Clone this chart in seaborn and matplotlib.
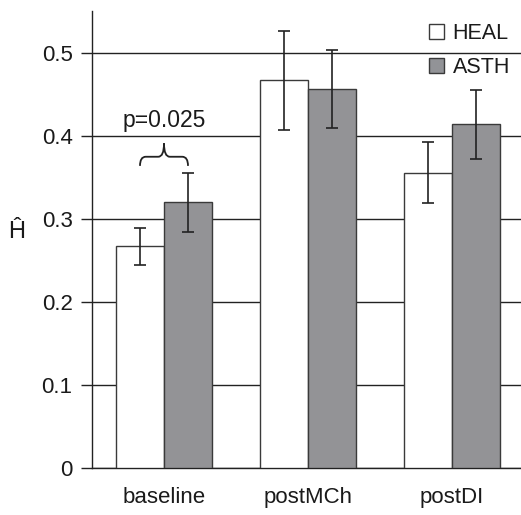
import matplotlib
matplotlib.use("Agg")
import matplotlib.pyplot as plt
from matplotlib.path import Path
from matplotlib.patches import PathPatch, Patch
import seaborn as sns
import pandas as pd
import numpy as np

conditions = ["baseline", "postMCh", "postDI"]
groups = ["HEAL", "ASTH"]
heal_mean = [0.267, 0.467, 0.356]
asth_mean = [0.320, 0.457, 0.414]
heal_err = [0.022, 0.060, 0.037]
asth_err = [0.036, 0.047, 0.042]
y_ticks = [0, 0.1, 0.2, 0.3, 0.4, 0.5]
y_tick_labels = ["0", "0.1", "0.2", "0.3", "0.4", "0.5"]
p_text = "p=0.025"

sns.set_style("white")
plt.rcParams["font.family"] = ["Liberation Sans", "DejaVu Sans"]
plt.rcParams["text.color"] = "#1a1a1a"
plt.rcParams["xtick.color"] = "#1a1a1a"
plt.rcParams["ytick.color"] = "#1a1a1a"
plt.rcParams["xtick.labelcolor"] = "#1a1a1a"
plt.rcParams["ytick.labelcolor"] = "#1a1a1a"

df = pd.DataFrame({
    "condition": conditions * 2,
    "group": [groups[0]] * 3 + [groups[1]] * 3,
    "H": heal_mean + asth_mean,
    "err": heal_err + asth_err,
})

fig = plt.figure(figsize=(5.21, 5.15), dpi=100)
ax = fig.add_axes([92 / 521, 47 / 515, 432 / 521, 456.5 / 515])

palette = {"HEAL": "#ffffff", "ASTH": "#929397"}
sns.barplot(data=df, x="condition", y="H", hue="group", order=conditions,
            hue_order=groups, palette=palette, width=0.667, errorbar=None,
            edgecolor="#3a3a3a", linewidth=1.0, legend=False, ax=ax, zorder=3)

# error bars at bar centres
for cont, g in zip(ax.containers, groups):
    sub = df[df["group"] == g].set_index("condition").loc[conditions]
    xs = [b.get_x() + b.get_width() / 2 for b in cont]
    ax.errorbar(xs, sub["H"].values, yerr=sub["err"].values, fmt="none",
                ecolor="#222222", elinewidth=1.2, capsize=4, capthick=1.2, zorder=4)

ax.set_ylim(0, 0.55)
ax.set_xlim(-0.5, 2.5)
ax.set_yticks(y_ticks)
ax.set_yticklabels(y_tick_labels, fontsize=16)
ax.yaxis.grid(True, color="#222222", linewidth=1.0, zorder=0)
ax.set_axisbelow(True)

# x: labels at centres, ticks at boundaries
ax.set_xticks(range(len(conditions)))
ax.set_xticklabels(conditions, fontsize=16)
ax.tick_params(axis="x", which="major", length=0, pad=14)
ax.set_xticks([-0.5, 0.5, 1.5, 2.5], minor=True)
ax.tick_params(axis="x", which="minor", length=6, width=1.0, color="#222222", direction="out")
ax.tick_params(axis="y", length=8, width=1.0, color="#222222", direction="out", pad=6, left=True)

for s in ["top", "right"]:
    ax.spines[s].set_visible(False)
for s in ["left", "bottom"]:
    ax.spines[s].set_color("#222222")
    ax.spines[s].set_linewidth(1.0)
ax.set_xlabel("")
ax.set_ylabel("")

fig.text(17 / 521, 1 - 232 / 515, "Ĥ", fontsize=17, ha="center", va="center")

# brace between baseline bars
bx0 = ax.containers[0][0].get_x() + ax.containers[0][0].get_width() / 2
bx1 = ax.containers[1][0].get_x() + ax.containers[1][0].get_width() / 2
bm = (bx0 + bx1) / 2
yb, yh, yt = 0.364, 0.375, 0.391
dx = (bx1 - bx0) * 0.12
verts = [(bx0, yb), (bx0, yh), (bx0 + dx, yh),
         (bm - dx, yh), (bm, yh), (bm, yt),
         (bm, yt), (bm, yh), (bm + dx, yh),
         (bx1 - dx, yh), (bx1, yh), (bx1, yb)]
codes = [Path.MOVETO, Path.CURVE3, Path.CURVE3,
         Path.LINETO, Path.CURVE3, Path.CURVE3,
         Path.MOVETO, Path.CURVE3, Path.CURVE3,
         Path.LINETO, Path.CURVE3, Path.CURVE3]
ax.add_patch(PathPatch(Path(verts, codes), fill=False, edgecolor="#222222", linewidth=1.3, zorder=5))
ax.text(bm, 0.419, p_text, fontsize=16.5, ha="center", va="center", zorder=5)

handles = [Patch(facecolor=palette[g], edgecolor="#3a3a3a", linewidth=1.0) for g in groups]
ax.legend(handles, groups, loc="upper left", bbox_to_anchor=(429 / 521, 1 - 23 / 515),
          bbox_transform=fig.transFigure, frameon=False, fontsize=15.5,
          handlelength=0.7, handleheight=0.7, handletextpad=0.4, labelspacing=0.62,
          borderaxespad=0, borderpad=0)

fig.savefig("out.png", dpi=100)
